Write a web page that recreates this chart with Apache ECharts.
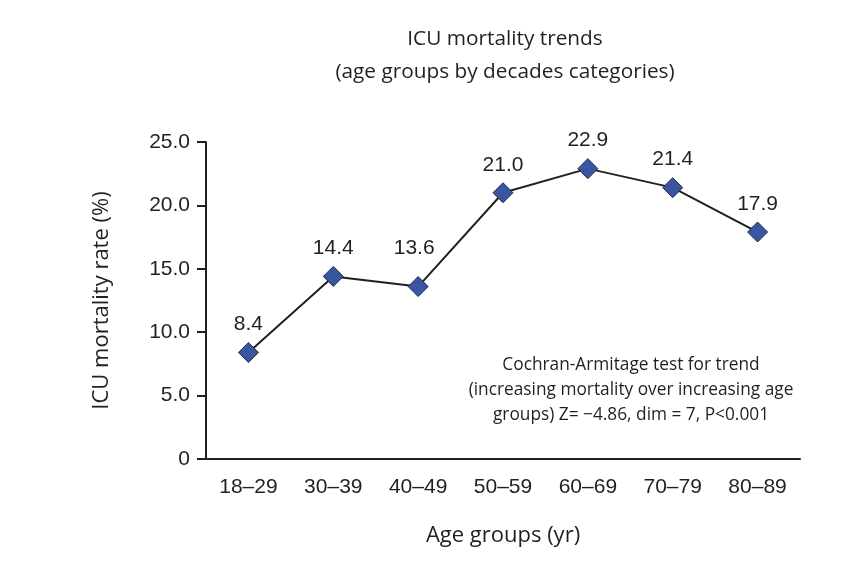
<!DOCTYPE html>
<html><head><meta charset="utf-8">
<script src="https://cdn.jsdelivr.net/npm/echarts@6/dist/echarts.min.js"></script>
<style>html,body{margin:0;padding:0;background:#fff}#c{width:844px;height:568px}</style>
</head><body><div id="c"></div>
<script>
const categories = ['18–29','30–39','40–49','50–59','60–69','70–79','80–89'];
const mortality = [8.4, 14.4, 13.6, 21.0, 22.9, 21.4, 17.9];
const titleLines = ['ICU mortality trends', '(age groups by decades categories)'];
const noteLines = ['Cochran-Armitage test for trend', '(increasing mortality over increasing age', 'groups) Z= −4.86, dim = 7, P<0.001'];

const numFont = '"Liberation Sans", Arial, sans-serif';
const humanist = '"Open Sans", "Noto Sans", sans-serif';
const chart = echarts.init(document.getElementById('c'));
chart.setOption({
  animation: false,
  title: {
    text: titleLines.join('\n'), left: 500, top: 18, textAlign: 'center',
    textStyle: { fontFamily: humanist, fontSize: 20.8, fontWeight: 'normal', color: '#231f20', lineHeight: 33 }
  },
  grid: { left: 206, right: 44, top: 142, bottom: 109 },
  xAxis: {
    type: 'category', data: categories, boundaryGap: true,
    name: 'Age groups (yr)', nameLocation: 'middle', nameGap: 66,
    nameTextStyle: { fontFamily: humanist, fontSize: 22, color: '#231f20' },
    axisLine: { lineStyle: { color: '#231f20', width: 2 } },
    axisTick: { show: false },
    axisLabel: { fontFamily: numFont, fontSize: 21, color: '#231f20', margin: 18 }
  },
  yAxis: {
    type: 'value', min: 0, max: 25, interval: 5,
    name: 'ICU mortality rate (%)', nameLocation: 'middle', nameGap: 93,
    nameTextStyle: { fontFamily: humanist, fontSize: 22, color: '#231f20' },
    axisLine: { show: true, lineStyle: { color: '#231f20', width: 2 } },
    axisTick: { show: true, length: 9, lineStyle: { color: '#231f20', width: 2 } },
    splitLine: { show: false },
    axisLabel: { fontFamily: numFont, fontSize: 21, color: '#231f20', margin: 16,
      formatter: v => v === 0 ? '0' : v.toFixed(1) }
  },
  series: [{
    type: 'line', symbol: 'diamond', symbolSize: 20,
    data: mortality.map((v, i) => i === 2
      ? { value: v, label: { distance: 17, offset: [-4, 0] } }
      : v),
    lineStyle: { color: '#231f20', width: 2 },
    itemStyle: { color: '#3a56a0', borderColor: '#1f2a4a', borderWidth: 1 },
    label: { show: true, position: 'top', distance: 7, formatter: p => p.value.toFixed(1),
      fontFamily: numFont, fontSize: 21, color: '#231f20' }
  }],
  graphic: [{
    type: 'text', left: 631 - 170, top: 353,
    style: { text: noteLines.join('\n'), x: 0, width: 340, align: 'center', textAlign: 'center',
      font: '17.3px ' + humanist, fill: '#231f20', lineHeight: 25 }
  }]
});
</script></body></html>
